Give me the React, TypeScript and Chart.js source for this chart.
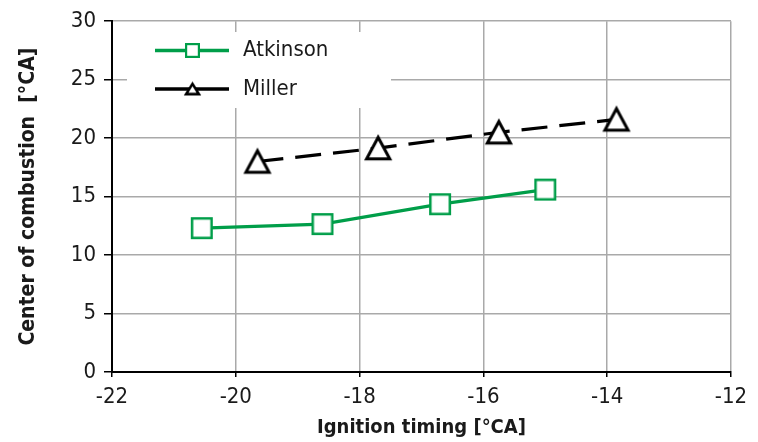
import React, { useEffect, useRef } from "react";
import { Chart, registerables } from "chart.js";

Chart.register(...registerables);

// ---- Data ----
const atkinsonX = [-20.55, -18.6, -16.7, -15.0];
const atkinsonY = [12.3, 12.65, 14.35, 15.6];
const millerX = [-19.65, -17.7, -15.75, -13.85];
const millerY = [18.0, 19.15, 20.5, 21.6];
const seriesNames = ["Atkinson", "Miller"];
const xTitle = "Ignition timing [°CA]";
const yTitle = "Center of combustion  [°CA]";
const xMin = -22, xMax = -12, xStep = 2;
const yMin = 0, yMax = 30, yStep = 5;

const GREEN = "#009E49";
const FONT = "'DejaVu Sans Condensed', 'Liberation Sans', sans-serif";

function makeSquare(side: number, lw: number, color: string) {
  const c = document.createElement("canvas");
  const s = Math.ceil(side + 4);
  c.width = s; c.height = s;
  const g = c.getContext("2d")!;
  const inner = side - lw;
  const o = (s - inner) / 2;
  g.fillStyle = "#fff";
  g.fillRect(o, o, inner, inner);
  g.strokeStyle = color;
  g.lineWidth = lw;
  g.strokeRect(o, o, inner, inner);
  return c;
}

function makeTriangle(w: number, h: number, lw: number, color: string) {
  const c = document.createElement("canvas");
  const s = Math.ceil(Math.max(w, h) + 8);
  c.width = s; c.height = s;
  const g = c.getContext("2d")!;
  const cx = s / 2, cy = s / 2;
  const hw = (w - lw * 1.6) / 2;
  const hh = (h - lw * 1.8) / 2;
  g.beginPath();
  g.moveTo(cx, cy - hh);
  g.lineTo(cx + hw, cy + hh);
  g.lineTo(cx - hw, cy + hh);
  g.closePath();
  g.fillStyle = "#fff";
  g.fill();
  g.lineJoin = "miter";
  g.strokeStyle = color;
  g.lineWidth = lw;
  g.stroke();
  return c;
}

export default function App() {
  const ref = useRef<HTMLCanvasElement | null>(null);

  useEffect(() => {
    document.body.style.margin = "0";
    const canvas = ref.current!;
    const sqBig = makeSquare(22, 2.5, GREEN);
    const triBig = makeTriangle(28, 27, 3, "#000");
    const sqSmall = makeSquare(15, 2.2, GREEN);
    const triSmall = makeTriangle(17, 15, 2.6, "#000");

    const legendPlugin = {
      id: "customLegend",
      afterDraw(chart: any) {
        const ctx = chart.ctx;
        ctx.save();
        ctx.fillStyle = "#fff";
        ctx.fillRect(127, 32, 264, 76);
        const items = [
          { y: 50.5, color: GREEN, img: sqSmall, name: seriesNames[0] },
          { y: 89, color: "#000", img: triSmall, name: seriesNames[1] },
        ];
        items.forEach((it) => {
          ctx.beginPath();
          ctx.strokeStyle = it.color;
          ctx.lineWidth = 3.4;
          ctx.moveTo(155, it.y);
          ctx.lineTo(229, it.y);
          ctx.stroke();
          ctx.drawImage(it.img, 192.5 - it.img.width / 2, it.y - it.img.height / 2);
          ctx.fillStyle = "#1a1a1a";
          ctx.font = `22px ${FONT}`;
          ctx.textBaseline = "middle";
          ctx.textAlign = "left";
          ctx.fillText(it.name, 243, it.y);
        });
        ctx.restore();
      },
    };

    const chart = new Chart(canvas, {
      type: "line",
      data: {
        datasets: [
          {
            label: seriesNames[0],
            data: atkinsonX.map((x, i) => ({ x, y: atkinsonY[i] })),
            borderColor: GREEN,
            borderWidth: 3.2,
            pointStyle: sqBig as any,
            pointRadius: 11,
            backgroundColor: "#fff",
            tension: 0,
          },
          {
            label: seriesNames[1],
            data: millerX.map((x, i) => ({ x, y: millerY[i] })),
            borderColor: "#000",
            borderWidth: 3.2,
            borderDash: [26, 12],
            pointStyle: triBig as any,
            pointRadius: 13,
            backgroundColor: "#fff",
            tension: 0,
          },
        ],
      },
      options: {
        animation: false,
        responsive: false,
        devicePixelRatio: 1,
        events: [],
        layout: { padding: { left: 0, right: 27, top: 19, bottom: 0 } },
        plugins: { legend: { display: false }, tooltip: { enabled: false } },
        scales: {
          x: {
            type: "linear",
            min: xMin,
            max: xMax,
            afterFit: (s: any) => { s.height = 70; },
            ticks: { stepSize: xStep, color: "#1a1a1a", font: { family: FONT, size: 22 }, padding: 7, maxRotation: 0 },
            grid: { color: "#a9a9a9", lineWidth: 1.5, tickColor: "#000", tickLength: 5, tickWidth: 1.5 },
            border: { color: "#000", width: 2 },
            title: { display: true, text: xTitle, color: "#1a1a1a", font: { family: FONT, size: 20, weight: "bold", lineHeight: 1 }, padding: { top: 0, bottom: 4 } },
          },
          y: {
            type: "linear",
            min: yMin,
            max: yMax,
            afterFit: (s: any) => { s.width = 112; },
            ticks: { stepSize: yStep, color: "#1a1a1a", font: { family: FONT, size: 22 }, padding: 8 },
            grid: { color: "#a9a9a9", lineWidth: 1.5, tickColor: "#000", tickLength: 8, tickWidth: 1.5 },
            border: { color: "#000", width: 2 },
            title: { display: true, text: yTitle, color: "#1a1a1a", font: { family: FONT, size: 21, weight: "bold", lineHeight: 1 }, padding: { top: 18, bottom: 0 } },
          },
        },
      },
      plugins: [legendPlugin],
    } as any);
    return () => chart.destroy();
  }, []);

  return (
    <div style={{ width: 758, height: 442, background: "#fff" }}>
      <canvas ref={ref} width={758} height={442} style={{ display: "block", width: 758, height: 442 }} />
    </div>
  );
}
